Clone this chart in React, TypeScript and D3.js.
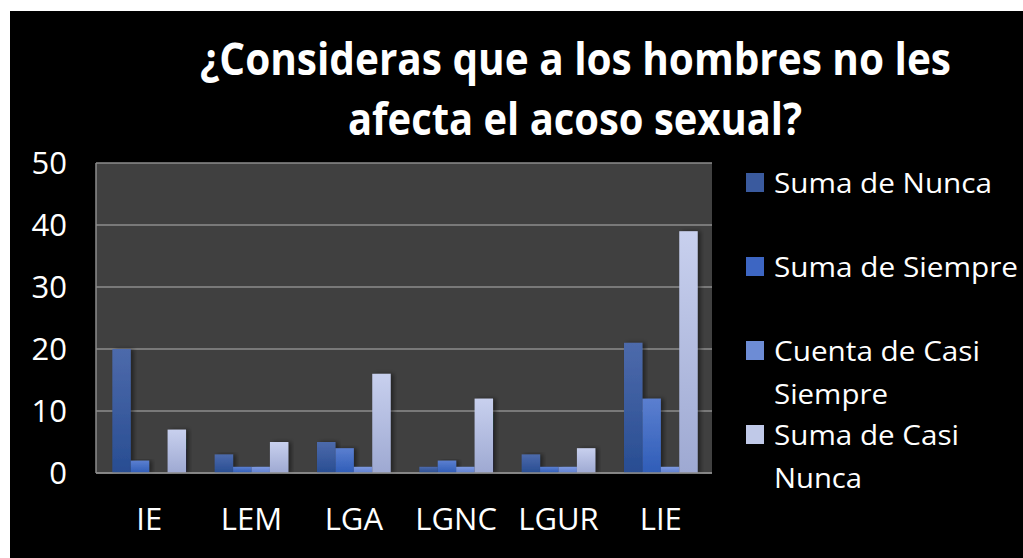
import React from "react";
import * as d3 from "d3";

// chart values
const categories = ["IE", "LEM", "LGA", "LGNC", "LGUR", "LIE"];
const sumaNunca = [20, 3, 5, 1, 3, 21];
const sumaSiempre = [2, 1, 4, 2, 1, 12];
const cuentaCasiSiempre = [0, 1, 1, 1, 1, 1];
const sumaCasiNunca = [7, 5, 16, 12, 4, 39];
const yTicks = [0, 10, 20, 30, 40, 50];
const seriesNames = [
  ["Suma de Nunca"],
  ["Suma de Siempre"],
  ["Cuenta de Casi", "Siempre"],
  ["Suma de Casi", "Nunca"],
];
const titleLines = ["¿Consideras que a los hombres no les", "afecta el acoso sexual?"];

const W = 1023;
const H = 558;
const plot = { left: 96, right: 712, top: 163, bottom: 473 };
const font = "'Open Sans', Lato, sans-serif";

// gradient top / bottom and legend swatch colour per series
const seriesStyle = [
  { top: "#4d6aab", bottom: "#284d92", swatch: "#3a5a9e" },
  { top: "#5b7fd0", bottom: "#2f5db8", swatch: "#3d66c3" },
  { top: "#7f9ae0", bottom: "#5f80d0", swatch: "#6d8cd5" },
  { top: "#c8d0ee", bottom: "#9ea9d2", swatch: "#c0c9e8" },
];
const titleWidths = [751, 454];
const legendWidths = [[218], [244], [206, 114], [185, 88]];

export default function App() {
  const series = [sumaNunca, sumaSiempre, cuentaCasiSiempre, sumaCasiNunca];

  const x0 = d3
    .scaleBand<string>()
    .domain(categories)
    .range([98, 712])
    .paddingInner(0.28)
    .paddingOuter(0.14);
  const x1 = d3
    .scaleBand<number>()
    .domain(d3.range(series.length))
    .range([0, x0.bandwidth()])
    .padding(0);
  const y = d3.scaleLinear().domain([0, 50]).range([plot.bottom, plot.top]);

  return (
    <svg
      width={W}
      height={H}
      style={{ position: "absolute", left: 0, top: 0, fontFamily: font }}
    >
      <defs>
        {seriesStyle.map((s, i) => (
          <linearGradient key={i} id={`grad${i}`} x1="0" y1="0" x2="0" y2="1">
            <stop offset="0%" stopColor={s.top} />
            <stop offset="100%" stopColor={s.bottom} />
          </linearGradient>
        ))}
        <filter id="shadow" x="-30%" y="-10%" width="160%" height="120%">
          <feDropShadow dx="3" dy="0" stdDeviation="2" floodColor="#000" floodOpacity="0.45" />
        </filter>
      </defs>

      <rect x={0} y={0} width={W} height={H} fill="#fff" />
      <rect x={10} y={11} width={W - 10} height={H - 11} fill="#000" />

      {/* title */}
      {titleLines.map((t, i) => (
        <text
          key={t}
          x={i === 0 ? 200 : 348}
          y={i === 0 ? 75 : 135}
          fill="#fff"
          fontSize={44}
          fontWeight={700}
          textLength={titleWidths[i]}
          lengthAdjust="spacingAndGlyphs"
        >
          {t}
        </text>
      ))}

      {/* plot area */}
      <rect
        x={plot.left}
        y={plot.top}
        width={plot.right - plot.left}
        height={plot.bottom - plot.top}
        fill="#404040"
      />
      {yTicks.map((t) => (
        <line
          key={t}
          x1={plot.left}
          x2={plot.right}
          y1={y(t)}
          y2={y(t)}
          stroke="#8c8c8c"
          strokeWidth={1.5}
        />
      ))}
      <line x1={plot.left} x2={plot.left} y1={plot.top} y2={plot.bottom} stroke="#8c8c8c" strokeWidth={1.5} />

      {/* bars */}
      {categories.map((c, ci) => (
        <g key={c} transform={`translate(${x0(c)},0)`}>
          {series.map((vals, si) =>
            vals[ci] > 0 ? (
              <rect
                key={si}
                x={x1(si)}
                y={y(vals[ci])}
                width={x1.bandwidth()}
                height={y(0) - y(vals[ci])}
                fill={`url(#grad${si})`}
                filter="url(#shadow)"
              />
            ) : null
          )}
        </g>
      ))}
      <line x1={plot.left} x2={plot.right} y1={plot.bottom} y2={plot.bottom} stroke="#8c8c8c" strokeWidth={1.5} />

      {/* y tick labels */}
      {yTicks.map((t) => (
        <text
          key={t}
          x={67}
          y={y(t)}
          dy="0.36em"
          textAnchor="end"
          fill="#fff"
          fontSize={31}
        >
          {t}
        </text>
      ))}

      {/* x labels */}
      {categories.map((c) => (
        <text
          key={c}
          x={(x0(c) ?? 0) + x0.bandwidth() / 2}
          y={530}
          textAnchor="middle"
          fill="#fff"
          fontSize={31}
        >
          {c}
        </text>
      ))}

      {/* legend */}
      {seriesNames.map((lines, i) => {
        const top = 173 + i * 84;
        return (
          <g key={i}>
            <rect x={746} y={top} width={18} height={19} fill={seriesStyle[i].swatch} />
            {lines.map((l, li) => (
              <text
                key={l}
                x={774}
                y={top + 20 + li * 43}
                fill="#fff"
                fontSize={28}
                textLength={legendWidths[i][li]}
                lengthAdjust="spacingAndGlyphs"
              >
                {l}
              </text>
            ))}
          </g>
        );
      })}
    </svg>
  );
}
